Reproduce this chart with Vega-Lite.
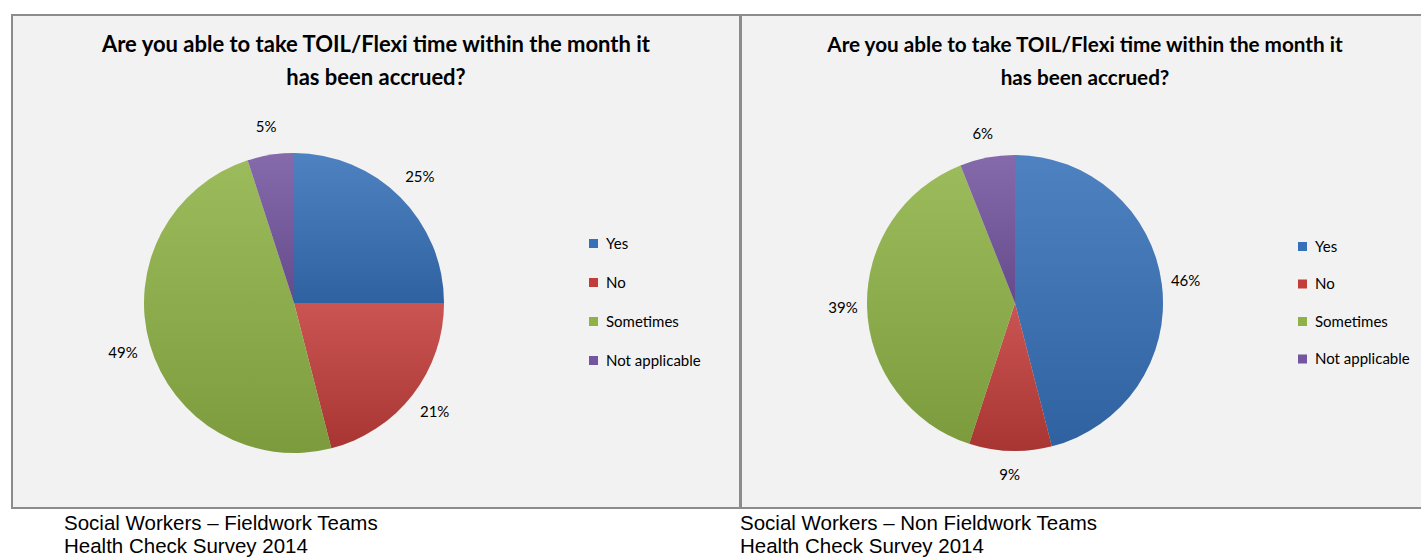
{
  "$schema": "https://vega.github.io/schema/vega-lite/v6.json",
  "background": "white",
  "padding": {"left": 11, "top": 14, "right": 0, "bottom": 0},
  "spacing": -2,
  "config": {
    "view": {"fill": "#f2f2f2", "stroke": "#8c8c8c", "strokeWidth": 2},
    "concat": {"spacing": 0},
    "legend": {
      "symbolType": "square",
      "symbolSize": 81,
      "symbolStrokeWidth": 0,
      "labelFont": "Lato",
      "labelFontSize": 15,
      "labelColor": "#000000",
      "labelOffset": 5,
      "orient": "none",
      "direction": "vertical"
    }
  },
  "datasets": {
    "fieldwork": [
      {"answer": "Yes", "rank": 1, "share": 0.25},
      {"answer": "No", "rank": 2, "share": 0.21},
      {"answer": "Sometimes", "rank": 3, "share": 0.49},
      {"answer": "Not applicable", "rank": 4, "share": 0.05}
    ],
    "nonfieldwork": [
      {"answer": "Yes", "rank": 1, "share": 0.46},
      {"answer": "No", "rank": 2, "share": 0.09},
      {"answer": "Sometimes", "rank": 3, "share": 0.39},
      {"answer": "Not applicable", "rank": 4, "share": 0.06}
    ]
  },
  "resolve": {"scale": {"color": "independent", "theta": "independent"}, "legend": {"color": "independent"}},
  "hconcat": [
    {
      "title": {
        "text": ["Social Workers – Fieldwork Teams", "Health Check Survey 2014"],
        "orient": "bottom", "anchor": "start", "dx": 53, "offset": 5,
        "font": "Liberation Sans", "fontSize": 20.5, "fontWeight": "normal",
        "lineHeight": 23, "color": "#000000"
      },
      "vconcat": [
        {
          "width": 728,
          "height": 493,
          "view": {"fill": "#f2f2f2", "stroke": "#8c8c8c", "strokeWidth": 2},
          "title": {
            "text": ["Are you able to take TOIL/Flexi time within the month it", "has been accrued?"],
            "offset": -75, "anchor": "middle",
            "font": "Lato", "fontSize": 22, "fontWeight": "bold", "lineHeight": 33, "color": "#000000"
          },
          "data": {"name": "fieldwork"},
          "encoding": {
            "theta": {"field": "share", "type": "quantitative", "stack": true},
            "order": {"field": "rank", "type": "ordinal"}
          },
          "layer": [
            {
              "mark": {"type": "arc", "outerRadius": 150, "x": 282, "y": 288},
              "encoding": {
                "color": {
                  "field": "answer", "type": "nominal",
                  "scale": {"domain": ["Yes", "No", "Sometimes", "Not applicable"], "range": ["#3670b8", "#c23d3a", "#8eb245", "#7455a0"]},
                  "legend": {"title": null, "legendX": 574, "legendY": 221, "rowPadding": 23}
                }
              }
            },
            {
              "mark": {
                "type": "arc", "outerRadius": 150, "x": 282, "y": 288,
                "fill": {"gradient": "linear", "x1": 0, "y1": 0, "x2": 0, "y2": 1,
                  "stops": [{"offset": 0, "color": "rgba(255,255,255,0.12)"}, {"offset": 1, "color": "rgba(0,0,0,0.13)"}]}
              }
            },
            {
              "mark": {"type": "text", "radius": 178, "x": 282, "y": 288, "font": "Lato", "fontSize": 15, "color": "#000000"},
              "encoding": {"text": {"field": "share", "type": "quantitative", "format": ".0%"}}
            }
          ]
        }
      ]
    },
    {
      "title": {
        "text": ["Social Workers – Non Fieldwork Teams", "Health Check Survey 2014"],
        "orient": "bottom", "anchor": "start", "dx": 0, "offset": 5,
        "font": "Liberation Sans", "fontSize": 20.5, "fontWeight": "normal",
        "lineHeight": 23, "color": "#000000"
      },
      "vconcat": [
        {
          "width": 682,
          "height": 493,
          "view": {"fill": "#f2f2f2", "stroke": "#8c8c8c", "strokeWidth": 2},
          "title": {
            "text": ["Are you able to take TOIL/Flexi time within the month it", "has been accrued?"],
            "offset": -75, "anchor": "middle", "dx": 3,
            "font": "Lato", "fontSize": 20.7, "fontWeight": "bold", "lineHeight": 33, "color": "#000000"
          },
          "data": {"name": "nonfieldwork"},
          "encoding": {
            "theta": {"field": "share", "type": "quantitative", "stack": true},
            "order": {"field": "rank", "type": "ordinal"}
          },
          "layer": [
            {
              "mark": {"type": "arc", "outerRadius": 148, "x": 274, "y": 288},
              "encoding": {
                "color": {
                  "field": "answer", "type": "nominal",
                  "scale": {"domain": ["Yes", "No", "Sometimes", "Not applicable"], "range": ["#3670b8", "#c23d3a", "#8eb245", "#7455a0"]},
                  "legend": {"title": null, "legendX": 554, "legendY": 224, "rowPadding": 21.5}
                }
              }
            },
            {
              "mark": {
                "type": "arc", "outerRadius": 148, "x": 274, "y": 288,
                "fill": {"gradient": "linear", "x1": 0, "y1": 0, "x2": 0, "y2": 1,
                  "stops": [{"offset": 0, "color": "rgba(255,255,255,0.12)"}, {"offset": 1, "color": "rgba(0,0,0,0.13)"}]}
              }
            },
            {
              "mark": {"type": "text", "radius": 172, "x": 274, "y": 288, "font": "Lato", "fontSize": 15, "color": "#000000"},
              "encoding": {"text": {"field": "share", "type": "quantitative", "format": ".0%"}}
            }
          ]
        }
      ]
    }
  ]
}
